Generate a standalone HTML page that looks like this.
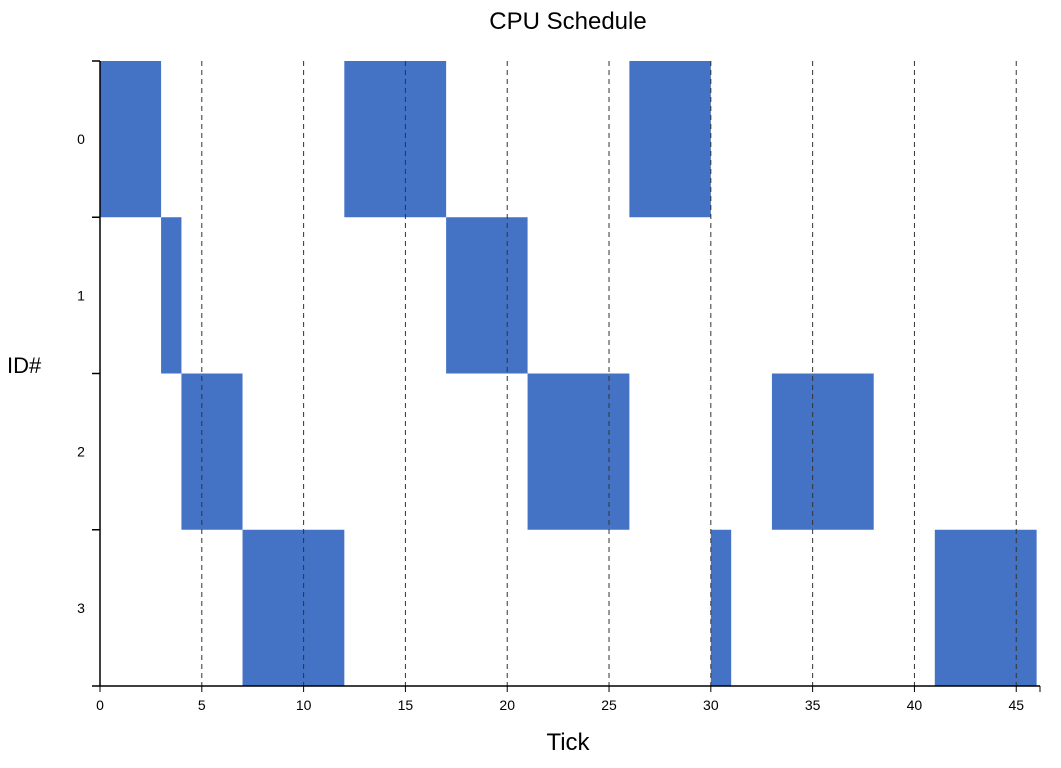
<!DOCTYPE html>
<html><head><meta charset="utf-8"><style>
body{margin:0;background:#fff;}
svg text{font-family:"Liberation Sans","DejaVu Sans",sans-serif;}
</style></head><body>
<svg id="chart" width="1061" height="763" xmlns="http://www.w3.org/2000/svg">
<text x="568" y="29" font-size="24" text-anchor="middle">CPU Schedule</text>
<text x="568" y="750" font-size="24" text-anchor="middle">Tick</text>
<text x="7" y="373" font-size="22">ID#</text>
<g id="bars"></g><g id="grid"></g><g id="axes"></g>
</svg>
<script>
const ids=[0,1,2,3];
const taskId=[0,0,0,1,1,2,2,2,3,3,3];
const taskStart=[0,12,26,3,17,4,21,33,7,30,41];
const taskEnd=[3,17,30,4,21,7,26,38,12,31,46];
const xTicks=[0,5,10,15,20,25,30,35,40,45];
const xMax=46;
const NS="http://www.w3.org/2000/svg";
const X0=100,X1=1036.6,Y0=61,Y1=686;
const x=v=>X0+(X1-X0)*v/xMax;
const rowH=(Y1-Y0)/ids.length;
const y=i=>Y0+rowH*i;
function mk(t,a,p){const e=document.createElementNS(NS,t);for(const k in a)e.setAttribute(k,a[k]);p.appendChild(e);return e;}
const grid=document.getElementById('grid'),bars=document.getElementById('bars'),axes=document.getElementById('axes');
xTicks.forEach(t=>{if(t===0)return;
 const l=mk('line',{x1:x(t),x2:x(t),y1:Y0,y2:Y1,stroke:'#333','stroke-width':1,'stroke-dasharray':'5,4'},grid);
 
 });
taskId.forEach((id,i)=>{
 const r=mk('rect',{x:x(taskStart[i]),y:y(id),width:x(taskEnd[i])-x(taskStart[i]),height:rowH,fill:'#4472c4'},bars);
 
 });
let a=mk('line',{x1:X0,x2:1040,y1:Y1,y2:Y1,stroke:'#000','stroke-width':1.5},axes);


a=mk('line',{x1:X0,x2:X0,y1:Y0,y2:Y1,stroke:'#000','stroke-width':1.5},axes);


mk('line',{x1:1040,x2:1040,y1:Y1,y2:Y1+6,stroke:'#000'},axes);
xTicks.forEach(t=>{
 mk('line',{x1:x(t),x2:x(t),y1:Y1,y2:Y1+6,stroke:'#000'},axes);
 const tx=mk('text',{x:x(t),y:Y1+24,'font-size':14,'text-anchor':'middle'},axes);tx.textContent=t;
 
 });
for(let i=0;i<=ids.length;i++)mk('line',{x1:92,x2:X0,y1:y(i),y2:y(i),stroke:'#000','stroke-width':1.5},axes);
ids.forEach((id,i)=>{
 const tx=mk('text',{x:81,y:y(i)+rowH/2+5,'font-size':14,'text-anchor':'middle'},axes);tx.textContent=id;
 
 });
</script>
</body></html>
